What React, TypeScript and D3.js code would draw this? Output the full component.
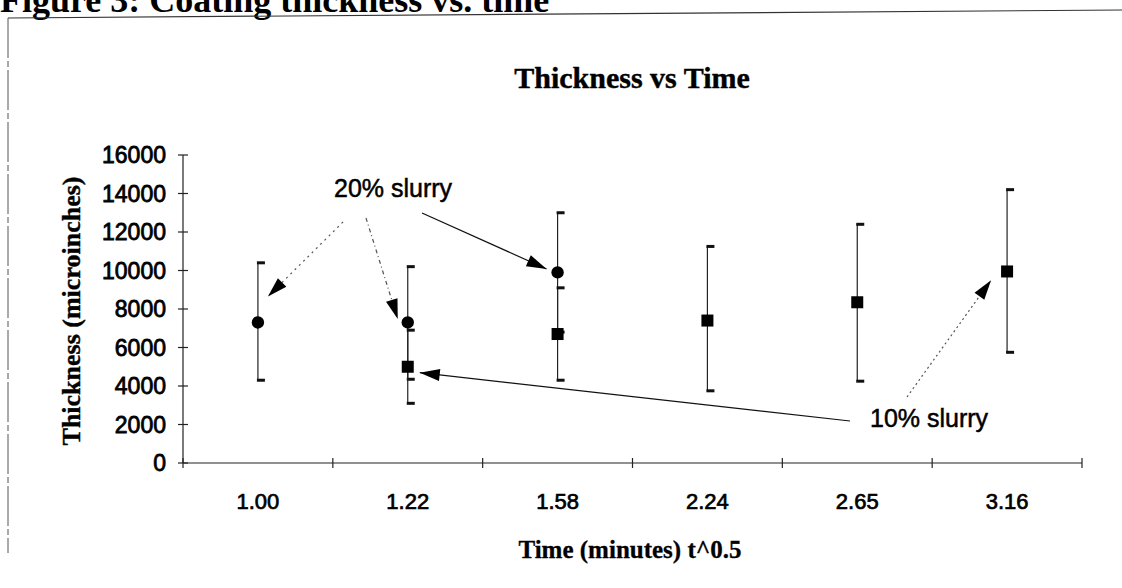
import React from "react";
import * as d3 from "d3";

const categories = ["1.00", "1.22", "1.58", "2.24", "2.65", "3.16"];
const slurry20 = [7300, 7300, 9900, null, null, null];
const slurry20Upper = [10400, 10200, 13000, null, null, null];
const slurry20Lower = [4300, 4350, 6800, null, null, null];
const slurry10 = [null, 5000, 6700, 7400, 8350, 9950];
const slurry10Upper = [null, 6900, 9100, 11250, 12400, 14200];
const slurry10Lower = [null, 3100, 4300, 3750, 4250, 5750];
const yTicks = [0, 2000, 4000, 6000, 8000, 10000, 12000, 14000, 16000];

const W = 1122;
const H = 588;
const L = 183, R = 1082, T = 155, B = 463;

export default function App() {
  const x = d3.scaleBand<string>().domain(categories).range([L, R]).padding(0);
  const xc = (i: number) => (x(categories[i]) as number) + x.bandwidth() / 2;
  const y = d3.scaleLinear().domain([0, 16000]).range([B, T]);

  const sans = "'Liberation Sans', Arial, sans-serif";
  const serif = "'Liberation Serif', 'Times New Roman', serif";

  const arrowHead = (x1: number, y1: number, x2: number, y2: number) => {
    const a = Math.atan2(y2 - y1, x2 - x1);
    const len = 20, hw = 6;
    const bx = x2 - len * Math.cos(a), by = y2 - len * Math.sin(a);
    const px = -Math.sin(a) * hw, py = Math.cos(a) * hw;
    return `M${x2},${y2}L${bx + px},${by + py}L${bx - px},${by - py}Z`;
  };

  const arrows = [
    { x1: 343, y1: 222, x2: xc(0) + 10, y2: y(8650), dash: "2,4", color: "#555" },
    { x1: 366, y1: 218, x2: xc(1) - 10, y2: y(7480), dash: "4,3,1,3", color: "#555" },
    { x1: 422, y1: 213, x2: xc(2) - 11, y2: y(10080), dash: null, color: "#111" },
    { x1: 850, y1: 421, x2: xc(1) + 12, y2: y(4690), dash: null, color: "#111" },
    { x1: 907, y1: 397, x2: xc(5) - 16, y2: y(9500), dash: "2,3", color: "#555" },
  ];

  const errBar = (i: number, up: number | null, lo: number | null, key: string) => {
    if (up == null || lo == null) return null;
    const cx = xc(i);
    return (
      <g key={key}>
        <line x1={cx} x2={cx} y1={y(up)} y2={y(lo)} stroke="#222" strokeWidth={1.2} />
        <rect x={cx - 1} y={y(up) - 1.5} width={8} height={3} fill="#111" />
        <rect x={cx - 1} y={y(lo) - 1.5} width={8} height={3} fill="#111" />
      </g>
    );
  };

  return (
    <svg width={W} height={H} style={{ position: "absolute", left: 0, top: 0, background: "#fff" }}>
      <rect x={0} y={0} width={W} height={H} fill="#fff" />
      {/* figure caption (cut off at top) */}
      <text x={0} y={12} fontFamily={serif} fontWeight="bold" fontSize={36} fill="#000">
        Figure 3: Coating thickness vs. time
      </text>
      {/* frame */}
      <line x1={8} y1={18} x2={W} y2={10} stroke="#333" strokeWidth={1.2} />
      <line x1={8} y1={18} x2={8} y2={553} stroke="#555" strokeWidth={1} strokeDasharray="40,3,6,3" />

      {/* chart title */}
      <text x={632} y={88} textAnchor="middle" fontFamily={serif} fontWeight="bold" fontSize={30} fill="#000" stroke="#000" strokeWidth={0.4}>
        Thickness vs Time
      </text>

      {/* y axis */}
      <line x1={L} x2={L} y1={T} y2={B} stroke="#222" strokeWidth={1.2} />
      {yTicks.map((t) => (
        <g key={"yt" + t}>
          <line x1={L - 5} x2={L + 5} y1={y(t)} y2={y(t)} stroke="#222" strokeWidth={1.2} />
          <text x={166} y={y(t) + 8} textAnchor="end" fontFamily={sans} fontSize={23} fill="#000" stroke="#000" strokeWidth={0.8}>
            {t}
          </text>
        </g>
      ))}
      <text
        transform={`translate(80, ${311}) rotate(-90)`}
        textAnchor="middle"
        fontFamily={serif}
        fontWeight="bold"
        fontSize={26}
        fill="#000"
        stroke="#000"
        strokeWidth={0.4}
      >
        Thickness (microinches)
      </text>

      {/* x axis */}
      <line x1={L} x2={R} y1={B} y2={B} stroke="#222" strokeWidth={1.2} />
      {[...categories.map((c) => x(c) as number), R].map((p, i) => (
        <line key={"xt" + i} x1={p} x2={p} y1={B - 5} y2={B + 5} stroke="#222" strokeWidth={1.2} />
      ))}
      {categories.map((c, i) => (
        <text key={"xl" + c} x={xc(i)} y={509} textAnchor="middle" fontFamily={sans} fontSize={22} fill="#000" stroke="#000" strokeWidth={0.7}>
          {c}
        </text>
      ))}
      <text x={630} y={558} textAnchor="middle" fontFamily={serif} fontWeight="bold" fontSize={25} fill="#000" stroke="#000" strokeWidth={0.3}>
        Time (minutes) t^0.5
      </text>

      {/* error bars */}
      {categories.map((_, i) => errBar(i, slurry20Upper[i], slurry20Lower[i], "e20" + i))}
      {categories.map((_, i) => errBar(i, slurry10Upper[i], slurry10Lower[i], "e10" + i))}

      {/* markers */}
      {slurry20.map((v, i) =>
        v == null ? null : <circle key={"c" + i} cx={xc(i)} cy={y(v)} r={6.2} fill="#000" />
      )}
      {slurry10.map((v, i) =>
        v == null ? null : <rect key={"s" + i} x={xc(i) - 6} y={y(v) - 6} width={12} height={12} fill="#000" />
      )}

      {/* annotations */}
      {arrows.map((a, i) => (
        <g key={"ar" + i}>
          <line x1={a.x1} y1={a.y1} x2={a.x2} y2={a.y2} stroke={a.color} strokeWidth={1.2} strokeDasharray={a.dash ?? undefined} />
          <path d={arrowHead(a.x1, a.y1, a.x2, a.y2)} fill="#000" />
        </g>
      ))}
      <text x={334} y={197} fontFamily={sans} fontSize={25} fill="#000" stroke="#000" strokeWidth={0.5}>
        20% slurry
      </text>
      <text x={870} y={427} fontFamily={sans} fontSize={25} fill="#000" stroke="#000" strokeWidth={0.5}>
        10% slurry
      </text>
    </svg>
  );
}
